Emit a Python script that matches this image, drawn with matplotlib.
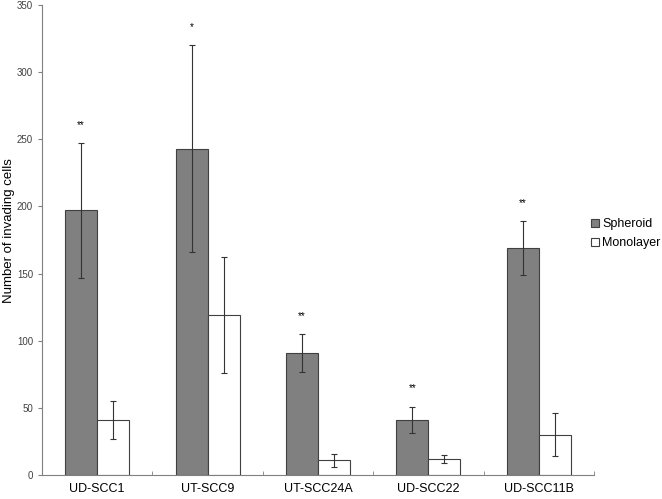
import numpy as np
import matplotlib
matplotlib.use("Agg")
import matplotlib.pyplot as plt

cell_lines = ["UD-SCC1", "UT-SCC9", "UT-SCC24A", "UD-SCC22", "UD-SCC11B"]
spheroid = [197, 243, 91, 41, 169]
spheroid_err = [50, 77, 14, 10, 20]
monolayer = [41, 119, 11, 12, 30]
monolayer_err = [14, 43, 5, 3, 16]
stars = ["**", "*", "**", "**", "**"]

plt.rcParams["font.family"] = ["Liberation Sans", "DejaVu Sans"]

fig = plt.figure(figsize=(6.62, 4.99), dpi=100)
ax = fig.add_axes([0.0634, 0.048, 0.834, 0.942])

x = np.arange(len(cell_lines))
w = 0.29
err_kw = dict(ecolor="#333333", elinewidth=0.8, capsize=2.5, capthick=0.8)
ax.bar(x - w / 2, spheroid, w, yerr=spheroid_err, color="#808080",
       edgecolor="#404040", linewidth=0.8, label="Spheroid", error_kw=err_kw)
ax.bar(x + w / 2, monolayer, w, yerr=monolayer_err, color="white",
       edgecolor="#404040", linewidth=0.8, label="Monolayer", error_kw=err_kw)

for xi, v, e, s in zip(x, spheroid, spheroid_err, stars):
    ax.text(xi - w / 2, v + e + 10, s, ha="center", va="bottom", fontsize=7)

ax.set_xlim(-0.5, len(cell_lines) - 0.5)
ax.set_ylim(0, 350)
ax.set_yticks(range(0, 351, 50))
ax.set_xticks(x)
ax.set_xticklabels(cell_lines, fontsize=9)
ax.set_xticks(np.arange(-0.5, len(cell_lines)), minor=True)
ax.tick_params(axis="x", which="major", length=0, pad=6)
ax.tick_params(axis="x", which="minor", direction="in", length=3, color="#808080")
ax.tick_params(axis="y", labelsize=7, labelcolor="#404040", length=3, color="#808080")
ax.set_ylabel("Number of invading cells", fontsize=9.5)
ax.yaxis.set_label_coords(-0.048, 0.52)

for side in ["top", "right"]:
    ax.spines[side].set_visible(False)
for side in ["left", "bottom"]:
    ax.spines[side].set_color("#808080")
    ax.spines[side].set_linewidth(0.8)

ax.legend(loc="center left", bbox_to_anchor=(0.893, 0.532), bbox_transform=fig.transFigure,
          frameon=False, fontsize=9, handlelength=0.6, handleheight=0.6,
          handletextpad=0.3, labelspacing=0.55, borderpad=0, borderaxespad=0)

fig.savefig("out.png", dpi=100)
